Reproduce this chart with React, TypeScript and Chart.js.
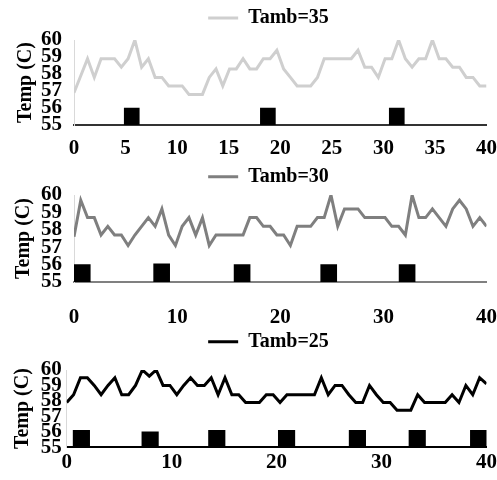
import React, { useEffect, useRef } from "react";
import { Chart, registerables } from "chart.js";

Chart.register(...registerables);

// ---- data ----
const X_MIN = 0;
const X_MAX = 40;
const SAMPLE_STEP = 40 / 61; // sampling interval of the temperature log
const Y_MIN = 55;
const Y_MAX = 60;

const TAMB35 = [
  56.9, 57.9, 58.9, 57.8, 58.9, 58.9, 58.9, 58.4, 58.9, 60.0,
  58.4, 58.9, 57.8, 57.8, 57.3, 57.3, 57.3, 56.8, 56.8, 56.8,
  57.8, 58.3, 57.3, 58.3, 58.3, 58.9, 58.3, 58.3, 58.9, 58.9,
  59.4, 58.3, 57.8, 57.3, 57.3, 57.3, 57.8, 58.9, 58.9, 58.9,
  58.9, 58.9, 59.4, 58.4, 58.4, 57.8, 58.9, 58.9, 60.0, 58.9,
  58.4, 58.9, 58.9, 60.0, 58.9, 58.9, 58.4, 58.4, 57.8, 57.8,
  57.3, 57.3,
];
const TAMB30 = [
  57.6, 59.7, 58.7, 58.7, 57.7, 58.2, 57.7, 57.7, 57.1, 57.7,
  58.2, 58.7, 58.2, 59.2, 57.7, 57.1, 58.2, 58.7, 57.7, 58.7,
  57.1, 57.7, 57.7, 57.7, 57.7, 57.7, 58.7, 58.7, 58.2, 58.2,
  57.7, 57.7, 57.1, 58.2, 58.2, 58.2, 58.7, 58.7, 60.0, 58.2,
  59.2, 59.2, 59.2, 58.7, 58.7, 58.7, 58.7, 58.2, 58.2, 57.7,
  60.0, 58.7, 58.7, 59.2, 58.7, 58.2, 59.2, 59.7, 59.2, 58.2,
  58.7, 58.2,
];
const TAMB25 = [
  57.9, 58.4, 59.5, 59.5, 59.0, 58.4, 59.0, 59.5, 58.4, 58.4,
  59.0, 60.0, 59.6, 60.0, 59.0, 59.0, 58.4, 59.0, 59.5, 59.0,
  59.0, 59.5, 58.4, 59.5, 58.4, 58.4, 57.9, 57.9, 57.9, 58.4,
  58.4, 57.9, 58.4, 58.4, 58.4, 58.4, 58.4, 59.5, 58.4, 59.0,
  59.0, 58.4, 57.9, 57.9, 59.0, 58.4, 57.9, 57.9, 57.4, 57.4,
  57.4, 58.4, 57.9, 57.9, 57.9, 57.9, 58.4, 57.9, 59.0, 58.4,
  59.5, 59.1,
];

const PULSE_X_35 = [5.6, 18.8, 31.3];
const PULSE_TOP_35 = [56, 56, 56];
const PULSE_X_30 = [0.8, 8.5, 16.3, 24.7, 32.3];
const PULSE_TOP_30 = [56, 56.05, 56, 56, 56];
const PULSE_X_25 = [1.4, 7.95, 14.3, 20.95, 27.7, 33.4, 39.25];
const PULSE_TOP_25 = [56.1, 56.0, 56.1, 56.1, 56.1, 56.1, 56.1];

const FONT = "'Liberation Serif', 'Times New Roman', serif";

type Cfg = {
  label: string;
  values: number[];
  pulses: number[];
  pulseTops: number[];
  color: string;
  axisColor: string;
  xStep: number;
  canvasTop: number;
  canvasHeight: number;
  plotLeft: number;
  plotTop: number;
  plotBottom: number;
  legendTextY: number;
  xLabelY: number;
  titlePad: number;
  tickPad: number;
  barW: number;
};

const PANELS: Cfg[] = [
  {
    label: "Tamb=35", values: TAMB35, pulses: PULSE_X_35, pulseTops: PULSE_TOP_35,
    color: "#cfcfcf", axisColor: "#333333", xStep: 5,
    canvasTop: 0, canvasHeight: 160, plotLeft: 74, plotTop: 40, plotBottom: 125,
    legendTextY: 18, xLabelY: 149, titlePad: 14, tickPad: 12, barW: 15,
  },
  {
    label: "Tamb=30", values: TAMB30, pulses: PULSE_X_30, pulseTops: PULSE_TOP_30,
    color: "#7f7f7f", axisColor: "#808080", xStep: 10,
    canvasTop: 160, canvasHeight: 170, plotLeft: 74, plotTop: 35, plotBottom: 122,
    legendTextY: 16.7, xLabelY: 157.5, titlePad: 12, tickPad: 12, barW: 16,
  },
  {
    label: "Tamb=25", values: TAMB25, pulses: PULSE_X_25, pulseTops: PULSE_TOP_25,
    color: "#000000", axisColor: "#000000", xStep: 10,
    canvasTop: 330, canvasHeight: 150, plotLeft: 66.7, plotTop: 40, plotBottom: 117.3,
    legendTextY: 11.7, xLabelY: 133, titlePad: 11, tickPad: 5, barW: 16.5,
  },
];

function Panel({ cfg }: { cfg: Cfg }) {
  const ref = useRef<HTMLCanvasElement>(null);
  useEffect(() => {
    const canvas = ref.current!;
    const lineData = cfg.values.map((v, i) => ({ x: i * SAMPLE_STEP, y: v }));
    const barData = cfg.pulses.map((x, i) => ({ x, y: [Y_MIN, cfg.pulseTops[i]] }));
    const lp = Math.max(cfg.plotTop - 30, 0);
    const dy = cfg.legendTextY - (lp + 10);
    const dx = 25;
    const tickFontSize = 21;
    const xGap = Math.max(cfg.xLabelY - cfg.plotBottom - (tickFontSize * 1.2) / 2, 0);

    const chart = new Chart(canvas, {
      type: "line",
      data: {
        datasets: [
          {
            type: "line",
            label: cfg.label,
            data: lineData as any,
            borderColor: cfg.color,
            backgroundColor: cfg.color,
            borderWidth: 3,
            pointRadius: 0,
            pointBorderWidth: 3,
            pointBorderColor: cfg.color,
            pointBackgroundColor: cfg.color,
            tension: 0,
            order: 1,
          } as any,
          {
            type: "bar",
            label: "pulse",
            data: barData as any,
            backgroundColor: "#000000",
            borderWidth: 0,
            barThickness: cfg.barW,
            order: 2,
          } as any,
        ],
      },
      options: {
        animation: false,
        responsive: false,
        maintainAspectRatio: false,
        layout: { padding: { top: 0, left: 0, right: 10, bottom: 0 } },
        plugins: {
          legend: {
            position: "top",
            labels: {
              filter: (item: any) => item.datasetIndex === 0,
              usePointStyle: true,
              pointStyle: "line",
              pointStyleWidth: 30,
              padding: lp,
              color: "#000000",
              font: { family: FONT, size: 20, weight: "bold" },
            },
          },
          tooltip: { enabled: false },
        },
        scales: {
          x: {
            type: "linear",
            min: X_MIN,
            max: X_MAX,
            offset: false,
            grid: { display: false, drawTicks: true, tickLength: xGap },
            border: { display: true, color: cfg.axisColor, width: 2 },
            ticks: {
              stepSize: cfg.xStep,
              autoSkip: false,
              maxRotation: 0,
              padding: 0,
              color: "#000000",
              font: { family: FONT, size: tickFontSize, weight: "bold" },
            },
            afterFit: (s: any) => {
              s.height = cfg.canvasHeight - cfg.plotBottom;
            },
          },
          y: {
            min: Y_MIN,
            max: Y_MAX,
            grid: { display: false, drawTicks: false },
            border: { display: true, color: "#d9d9d9", width: 1 },
            ticks: {
              stepSize: 1,
              autoSkip: false,
              padding: cfg.tickPad,
              color: "#000000",
              font: { family: FONT, size: tickFontSize, weight: "bold" },
            },
            title: {
              display: true,
              text: "Temp (C)",
              color: "#000000",
              font: { family: FONT, size: 20, weight: "bold" },
              padding: { top: cfg.titlePad, bottom: 0 },
            },
            afterFit: (s: any) => {
              s.width = cfg.plotLeft;
            },
          },
        },
      } as any,
      plugins: [
        {
          id: "legendShift",
          afterLayout(c: any) {
            const l = c.legend;
            if (l) {
              l.left += dx;
              l.right += dx;
              l.top += dy;
              l.bottom += dy;
            }
          },
        },
      ],
    });
    return () => chart.destroy();
  }, [cfg]);
  return (
    <canvas
      ref={ref}
      width={497}
      height={cfg.canvasHeight}
      style={{ position: "absolute", left: 0, top: cfg.canvasTop, width: 497, height: cfg.canvasHeight }}
    />
  );
}

export default function App() {
  return (
    <div style={{ position: "fixed", left: 0, top: 0, width: 497, height: 480, background: "#ffffff" }}>
      {PANELS.map((p) => (
        <Panel key={p.label} cfg={p} />
      ))}
    </div>
  );
}
